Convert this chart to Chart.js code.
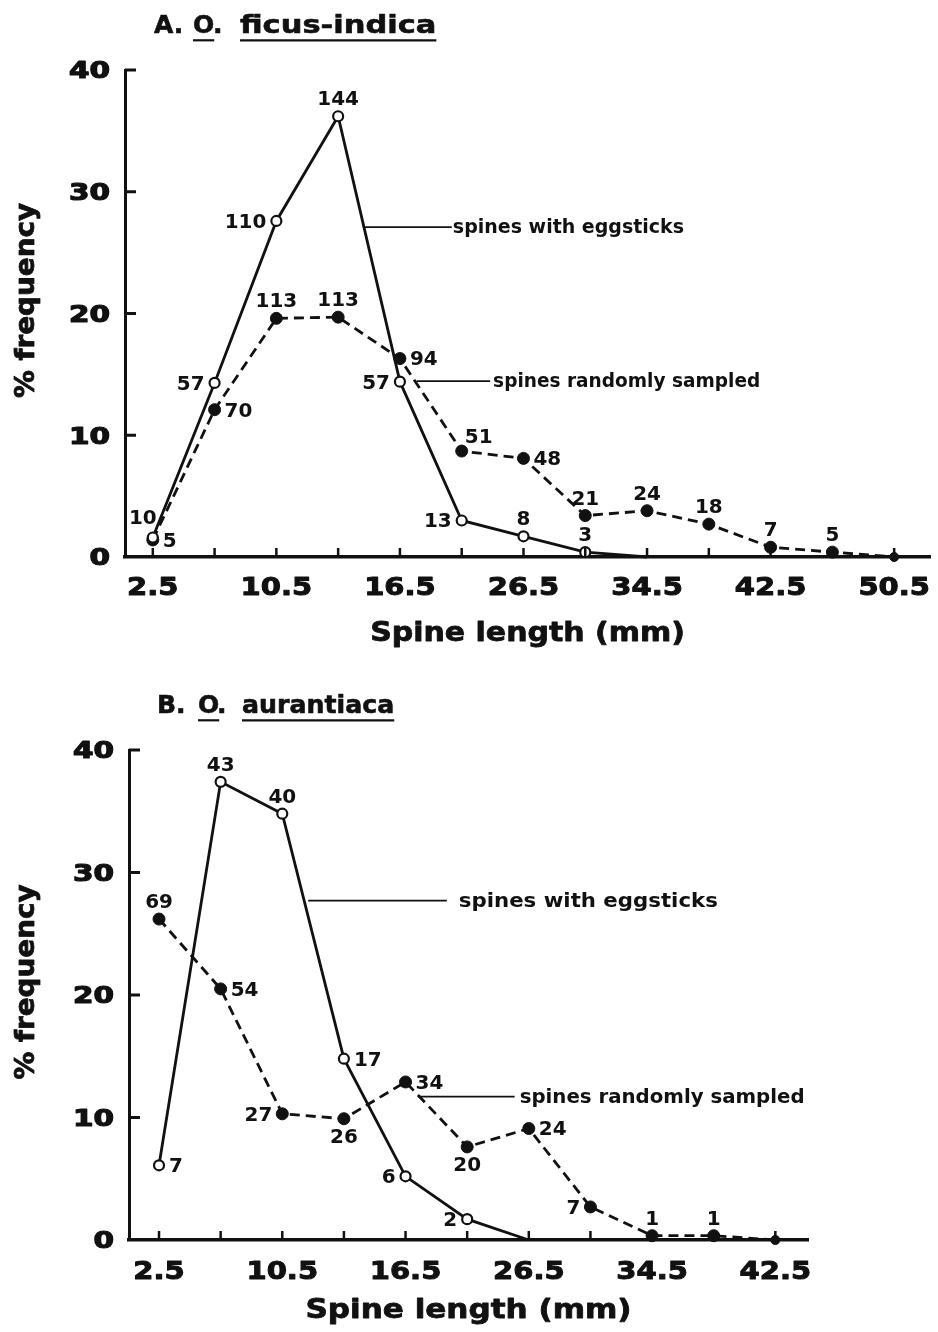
<!DOCTYPE html>
<html>
<head>
<meta charset="utf-8">
<title>Spine length frequency</title>
<script src="https://cdn.jsdelivr.net/npm/chart.js@4.4.1/dist/chart.umd.min.js"></script>
<style>
  html, body { margin: 0; padding: 0; background: #fff; }
  canvas { position: absolute; left: 0; }
  #chartA { top: 0; }
  #chartB { top: 666px; }
</style>
</head>
<body>
<canvas id="chartA" width="938" height="666"></canvas>
<canvas id="chartB" width="938" height="666"></canvas>
<script>
// A. O. ficus-indica -- % frequency per spine length class
const ticksA = ["2.5", "", "10.5", "", "16.5", "", "26.5", "", "34.5", "", "42.5", "", "50.5"];
const eggA = [1.6, 14.3, 27.6, 36.2, 14.4, 3.0, 1.7, 0.4, 0];
const eggCountA = [10, 57, 110, 144, 57, 13, 8, 3, null];
const randA = [1.4, 12.1, 19.6, 19.7, 16.3, 8.7, 8.1, 3.4, 3.8, 2.7, 0.8, 0.4, 0];
const randCountA = [5, 70, 113, 113, 94, 51, 48, 21, 24, 18, 7, 5, null];

// B. O. aurantiaca
const ticksB = ["2.5", "", "10.5", "", "16.5", "", "26.5", "", "34.5", "", "42.5"];
const eggB = [6.1, 37.4, 34.8, 14.8, 5.2, 1.7, 0];
const eggCountB = [7, 43, 40, 17, 6, 2, null];
const randB = [26.2, 20.5, 10.3, 9.9, 12.9, 7.6, 9.1, 2.7, 0.35, 0.35, 0];
const randCountB = [69, 54, 27, 26, 34, 20, 24, 7, 1, 1, null];

const yTicks = [0, 10, 20, 30, 40];

// where each count sits relative to its point
const eggSideA = ["nw", "w", "w", "n", "w", "w", "n", "n", null];
const randSideA = ["e", "e", "n", "n", "e", "ne", "e", "n", "n", "n", "n", "n", null];
const eggSideB = ["e", "n", "n", "e", "w", "w", null];
const randSideB = ["n", "e", "w", "s", "e", "s", "e", "w", "n", "n", null];

const INK = "#111";
const FONT = '"DejaVu Sans", "Liberation Sans", sans-serif';

// bold text, widened horizontally like the old lettering; heavy adds an outline
function wideText(ctx, text, x, y, size, stretch, align, heavy) {
  ctx.save();
  ctx.font = `bold ${size}px ${FONT}`;
  ctx.textAlign = "left";
  ctx.textBaseline = "alphabetic";
  const w = ctx.measureText(text).width * stretch;
  let left = x;
  if (align === "center") left = x - w / 2;
  else if (align === "right") left = x - w;
  ctx.translate(left, y);
  ctx.scale(stretch, 1);
  ctx.fillText(text, 0, 0);
  if (heavy) {
    ctx.lineWidth = heavy;
    ctx.lineJoin = "round";
    ctx.strokeText(text, 0, 0);
  }
  ctx.restore();
  return { left, width: w };
}

function segment(ctx, x1, y1, x2, y2) {
  ctx.beginPath();
  ctx.moveTo(x1, y1);
  ctx.lineTo(x2, y2);
  ctx.stroke();
}

const LABEL_SIZE = 19;
const LABEL_STRETCH = 1.05;

function countLabel(ctx, text, px, py, side) {
  const base = 0.365 * LABEL_SIZE;
  switch (side) {
    case "n": wideText(ctx, text, px, py - 18 + base, LABEL_SIZE, LABEL_STRETCH, "center"); break;
    case "s": wideText(ctx, text, px, py + 17.5 + base, LABEL_SIZE, LABEL_STRETCH, "center"); break;
    case "e": wideText(ctx, text, px + 10, py + base, LABEL_SIZE, LABEL_STRETCH, "left"); break;
    case "w": wideText(ctx, text, px - 10, py + base, LABEL_SIZE, LABEL_STRETCH, "right"); break;
    case "nw": wideText(ctx, text, px - 10, py - 20 + base, LABEL_SIZE, LABEL_STRETCH, "center"); break;
    case "ne": wideText(ctx, text, px + 17, py - 15 + base, LABEL_SIZE, LABEL_STRETCH, "center"); break;
  }
}

const paperPlugin = {
  id: "paper",
  afterDatasetsDraw(chart, args, opts) {
    const ctx = chart.ctx;
    ctx.save();
    ctx.fillStyle = INK;
    ctx.strokeStyle = INK;
    opts.counts.forEach((counts, di) => {
      const pts = chart.getDatasetMeta(di).data;
      counts.forEach((n, i) => {
        if (n === null) return;
        countLabel(ctx, String(n), pts[i].x, pts[i].y, opts.sides[di][i]);
      });
    });
    ctx.restore();
  },
  afterDraw(chart, args, opts) {
    const ctx = chart.ctx;
    const xs = chart.scales.x;
    const ys = chart.scales.y;
    const area = chart.chartArea;
    ctx.save();
    ctx.strokeStyle = INK;
    ctx.fillStyle = INK;

    // tick marks point into the plot
    ctx.lineWidth = 2.5;
    opts.xLabels.forEach((_, i) => {
      const px = xs.getPixelForValue(i);
      segment(ctx, px, area.bottom, px, area.bottom - 9);
    });
    ctx.lineWidth = 3;
    yTicks.forEach((v) => {
      if (v === 0) return;
      const py = ys.getPixelForValue(v);
      segment(ctx, area.left, py, area.left + 11, py);
    });

    // tick labels
    opts.xLabels.forEach((t, i) => {
      if (!t) return;
      wideText(ctx, t, xs.getPixelForValue(i), area.bottom + opts.xLabelGap + 9, 25, 1.16, "center", 1);
    });
    yTicks.forEach((v) => {
      wideText(ctx, String(v), area.left - 15, ys.getPixelForValue(v) + 8.4, 23, 1.28, "right", 1.2);
    });

    // axis titles
    wideText(ctx, "Spine length (mm)", (area.left + area.right) / 2, area.bottom + opts.xTitleGap, 27, opts.xTitleStretch, "center", 0.8);
    ctx.save();
    ctx.translate(33.5, (area.top + area.bottom) / 2 - 13);
    ctx.rotate(-Math.PI / 2);
    wideText(ctx, "% frequency", 0, 0, 27, 1.03, "center", 0.8);
    ctx.restore();

    // panel heading, genus and species underlined
    const baseY = area.top - 36.7;
    ctx.lineWidth = 2.2;
    opts.heading.forEach((part) => {
      const r = wideText(ctx, part.text, part.x, baseY, 25, part.stretch || 1, "left", 0.6);
      if (part.underline) {
        ctx.lineWidth = 2.2;
        segment(ctx, r.left, baseY + 7, r.left + r.width, baseY + 7);
      }
    });

    // callouts naming the two curves
    opts.callouts.forEach((c) => {
      const x1 = xs.getPixelForValue(c.from[0]);
      const y1 = ys.getPixelForValue(c.from[1]);
      const x2 = xs.getPixelForValue(c.to);
      ctx.lineWidth = 1.8;
      segment(ctx, x1, y1, x2, y1);
      wideText(ctx, c.text, x2 + c.gap, y1 + 6, 19, c.stretch, "left");
    });
    ctx.restore();
  },
};

function points(values) {
  return values.map((y, x) => ({ x, y }));
}

function makeChart(id, cfg) {
  return new Chart(document.getElementById(id), {
    type: "line",
    data: {
      datasets: [
        {
          label: "spines with eggsticks",
          data: points(cfg.egg),
          borderColor: INK,
          borderWidth: 2.8,
          pointRadius: (c) => (c.raw && c.raw.y === 0 ? 0 : 5),
          pointBackgroundColor: "#fff",
          pointBorderColor: INK,
          pointBorderWidth: 2.2,
          tension: 0,
          clip: false,
        },
        {
          label: "spines randomly sampled",
          data: points(cfg.rand),
          borderColor: INK,
          borderWidth: 2.8,
          borderDash: [10, 6],
          pointRadius: (c) => (c.raw && c.raw.y === 0 ? 4.5 : 6),
          pointBackgroundColor: INK,
          pointBorderColor: INK,
          pointBorderWidth: 1,
          tension: 0,
          clip: false,
        },
      ],
    },
    options: {
      responsive: false,
      devicePixelRatio: 1,
      animation: false,
      events: [],
      layout: { autoPadding: false, padding: cfg.padding },
      scales: {
        x: {
          type: "linear",
          min: cfg.xMin,
          max: cfg.xMax,
          grid: { display: false, drawTicks: false },
          border: { display: true, color: INK, width: 3.5 },
          ticks: { display: false },
          afterBuildTicks: (s) => {
            s.ticks = cfg.xLabels.map((_, i) => ({ value: i }));
          },
          afterFit: (s) => {
            s.height = 0;
          },
        },
        y: {
          min: 0,
          max: 40,
          grid: { display: false, drawTicks: false },
          border: { display: true, color: INK, width: 3 },
          ticks: { display: false, stepSize: 10 },
          afterFit: (s) => {
            s.width = 0;
          },
        },
      },
      plugins: {
        legend: { display: false },
        tooltip: { enabled: false },
        paper: {
          xLabels: cfg.xLabels,
          counts: cfg.counts,
          sides: cfg.sides,
          heading: cfg.heading,
          callouts: cfg.callouts,
          xLabelGap: cfg.xLabelGap,
          xTitleGap: cfg.xTitleGap,
          xTitleStretch: cfg.xTitleStretch,
        },
      },
    },
    plugins: [paperPlugin],
  });
}

makeChart("chartA", {
  egg: eggA,
  rand: randA,
  xLabels: ticksA,
  counts: [eggCountA, randCountA],
  sides: [eggSideA, randSideA],
  xMin: -0.45,
  xMax: 12.58,
  padding: { left: 125, right: 8, top: 70, bottom: 109 },
  xLabelGap: 29,
  xTitleGap: 84,
  xTitleStretch: 1.11,
  heading: [
    { text: "A.", x: 154 },
    { text: "O", x: 193, underline: true },
    { text: ".", x: 213 },
    { text: "ficus-indica", x: 240, underline: true, stretch: 1.22 },
  ],
  callouts: [
    { from: [3.4, 27.1], to: 4.84, gap: 1, text: "spines with eggsticks", stretch: 1.0 },
    { from: [4.27, 14.44], to: 5.46, gap: 3, text: "spines randomly sampled", stretch: 0.975 },
  ],
});

makeChart("chartB", {
  egg: eggB,
  rand: randB,
  xLabels: ticksB,
  counts: [eggCountB, randCountB],
  sides: [eggSideB, randSideB],
  xMin: -0.487,
  xMax: 10.53,
  padding: { left: 129, right: 130, top: 84, bottom: 92 },
  xLabelGap: 30,
  xTitleGap: 78,
  xTitleStretch: 1.15,
  heading: [
    { text: "B.", x: 157 },
    { text: "O", x: 198, underline: true },
    { text: ".", x: 217 },
    { text: "aurantiaca", x: 242, underline: true, stretch: 1.01 },
  ],
  callouts: [
    { from: [2.42, 27.7], to: 4.67, gap: 12, text: "spines with eggsticks", stretch: 1.12 },
    { from: [4.2, 11.7], to: 5.77, gap: 5, text: "spines randomly sampled", stretch: 1.04 },
  ],
});
</script>
</body>
</html>
